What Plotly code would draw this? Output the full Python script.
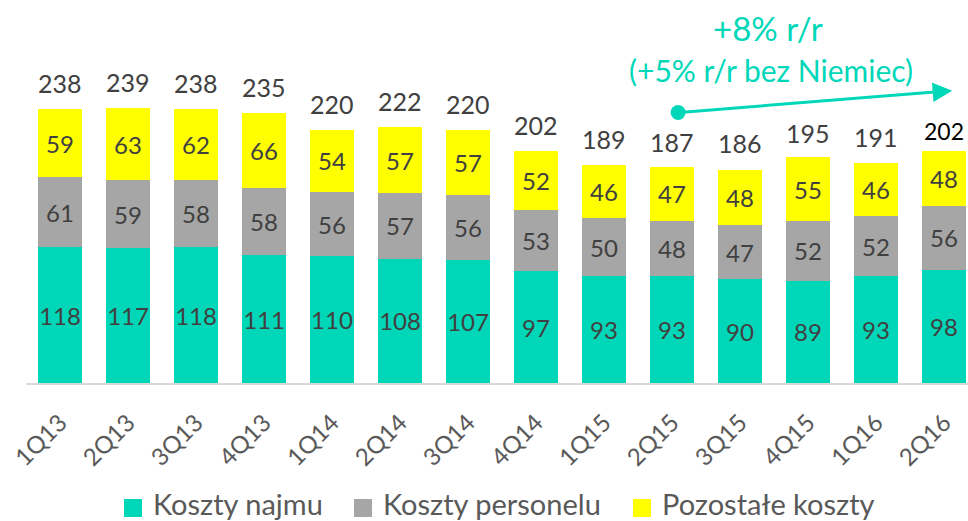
import plotly.graph_objects as go

quarters = ["1Q13", "2Q13", "3Q13", "4Q13", "1Q14", "2Q14", "3Q14", "4Q14",
            "1Q15", "2Q15", "3Q15", "4Q15", "1Q16", "2Q16"]
koszty_najmu = [118, 117, 118, 111, 110, 108, 107, 97, 93, 93, 90, 89, 93, 98]
koszty_personelu = [61, 59, 58, 58, 56, 57, 56, 53, 50, 48, 47, 52, 52, 56]
pozostale_koszty = [59, 63, 62, 66, 54, 57, 57, 52, 46, 47, 48, 55, 46, 48]
totals = [238, 239, 238, 235, 220, 222, 220, 202, 189, 187, 186, 195, 191, 202]
series_names = ["Koszty najmu", "Koszty personelu", "Pozostałe koszty"]

TEAL = "#00D7B9"
GRAY = "#A6A6A6"
YELLOW = "#FFFF00"
TXT = "#404040"
FONT = "Lato, 'Open Sans', sans-serif"
colors = [TEAL, GRAY, YELLOW]

W, H = 968, 521
ML, MR, MT, MB = 26, 0, 0, H - 383
pw, ph = W - ML - MR, H - MT - MB


def px(x):
    return (x - ML) / pw


def py(y):
    return 1 - (y - MT) / ph


fig = go.Figure()
for name, vals, col in zip(series_names, [koszty_najmu, koszty_personelu, pozostale_koszty], colors):
    fig.add_trace(go.Bar(
        x=quarters, y=vals, name=name, marker=dict(color=col, line=dict(width=0)),
        text=[str(v) for v in vals], textposition="inside", insidetextanchor="middle",
        textangle=0,
        textfont=dict(family=FONT, size=24, color=TXT), constraintext="none",
        hoverinfo="skip", showlegend=False))

annotations = []
for i, (q, t) in enumerate(zip(quarters, totals)):
    last = i == len(quarters) - 1
    annotations.append(dict(
        x=q, y=t, xref="x", yref="y", text=str(t), showarrow=False,
        xanchor="center", yanchor="middle", yshift=20 if last else 26,
        font=dict(family=FONT, size=23 if last else 25, color="#000000" if last else TXT)))

annotations += [
    dict(x=px(768), y=py(28), xref="paper", yref="paper", text="+8% r/r", showarrow=False,
         xanchor="center", yanchor="middle",
         font=dict(family=FONT, size=33, color=TEAL)),
    dict(x=px(771), y=py(70), xref="paper", yref="paper", text="(+5% r/r bez Niemiec)",
         showarrow=False, xanchor="center", yanchor="middle",
         font=dict(family=FONT, size=30, color=TEAL)),
]

# custom legend (larger swatches than Plotly's built-in)
shapes = []
for name, col, sx in zip(series_names, colors, [124, 354, 633]):
    shapes.append(dict(type="rect", xref="paper", yref="paper",
                       x0=px(sx), x1=px(sx + 18), y0=py(517), y1=py(499),
                       fillcolor=col, line=dict(width=0)))
    annotations.append(dict(x=px(sx + 27), y=py(503), xref="paper", yref="paper",
                            text=name, showarrow=False, xanchor="left", yanchor="middle",
                            font=dict(family=FONT, size=29, color="#595959")))

# trend arrow
annotations.append(dict(
    x=13.12, y=254, ax=9.09, ay=235, xref="x", yref="y", axref="x", ayref="y",
    text="", showarrow=True, arrowhead=2, arrowsize=1.3, arrowwidth=3, arrowcolor=TEAL))
shapes.append(dict(type="circle", xref="x", yref="y", xsizemode="pixel", ysizemode="pixel",
                   xanchor=9.09, yanchor=235, x0=-7.5, x1=7.5, y0=-7.5, y1=7.5,
                   fillcolor=TEAL, line=dict(width=0)))

fig.update_layout(
    barmode="stack", bargap=0.34,
    width=W, height=H, margin=dict(l=ML, r=MR, t=MT, b=MB, autoexpand=False),
    paper_bgcolor="white", plot_bgcolor="white",
    font=dict(family=FONT, color="#595959"),
    uniformtext=dict(mode="show", minsize=24),
    xaxis=dict(type="category", range=[-0.5, -0.5 + pw / 68.0], tickangle=-45, automargin=False,
               tickfont=dict(family=FONT, size=24, color="#595959"), ticklabelstandoff=14,
               showline=True, linecolor="#D9D9D9", linewidth=2, showgrid=False,
               ticks=""),
    yaxis=dict(range=[0, ph / 1.151], visible=False, showgrid=False, zeroline=False,
               automargin=False),
    showlegend=False,
    hovermode=False,
    annotations=annotations,
    shapes=shapes,
)

fig.write_html("out.html", config={"displayModeBar": False, "staticPlot": True},
               post_script="document.body.style.margin='0';document.body.style.overflow='hidden';")
